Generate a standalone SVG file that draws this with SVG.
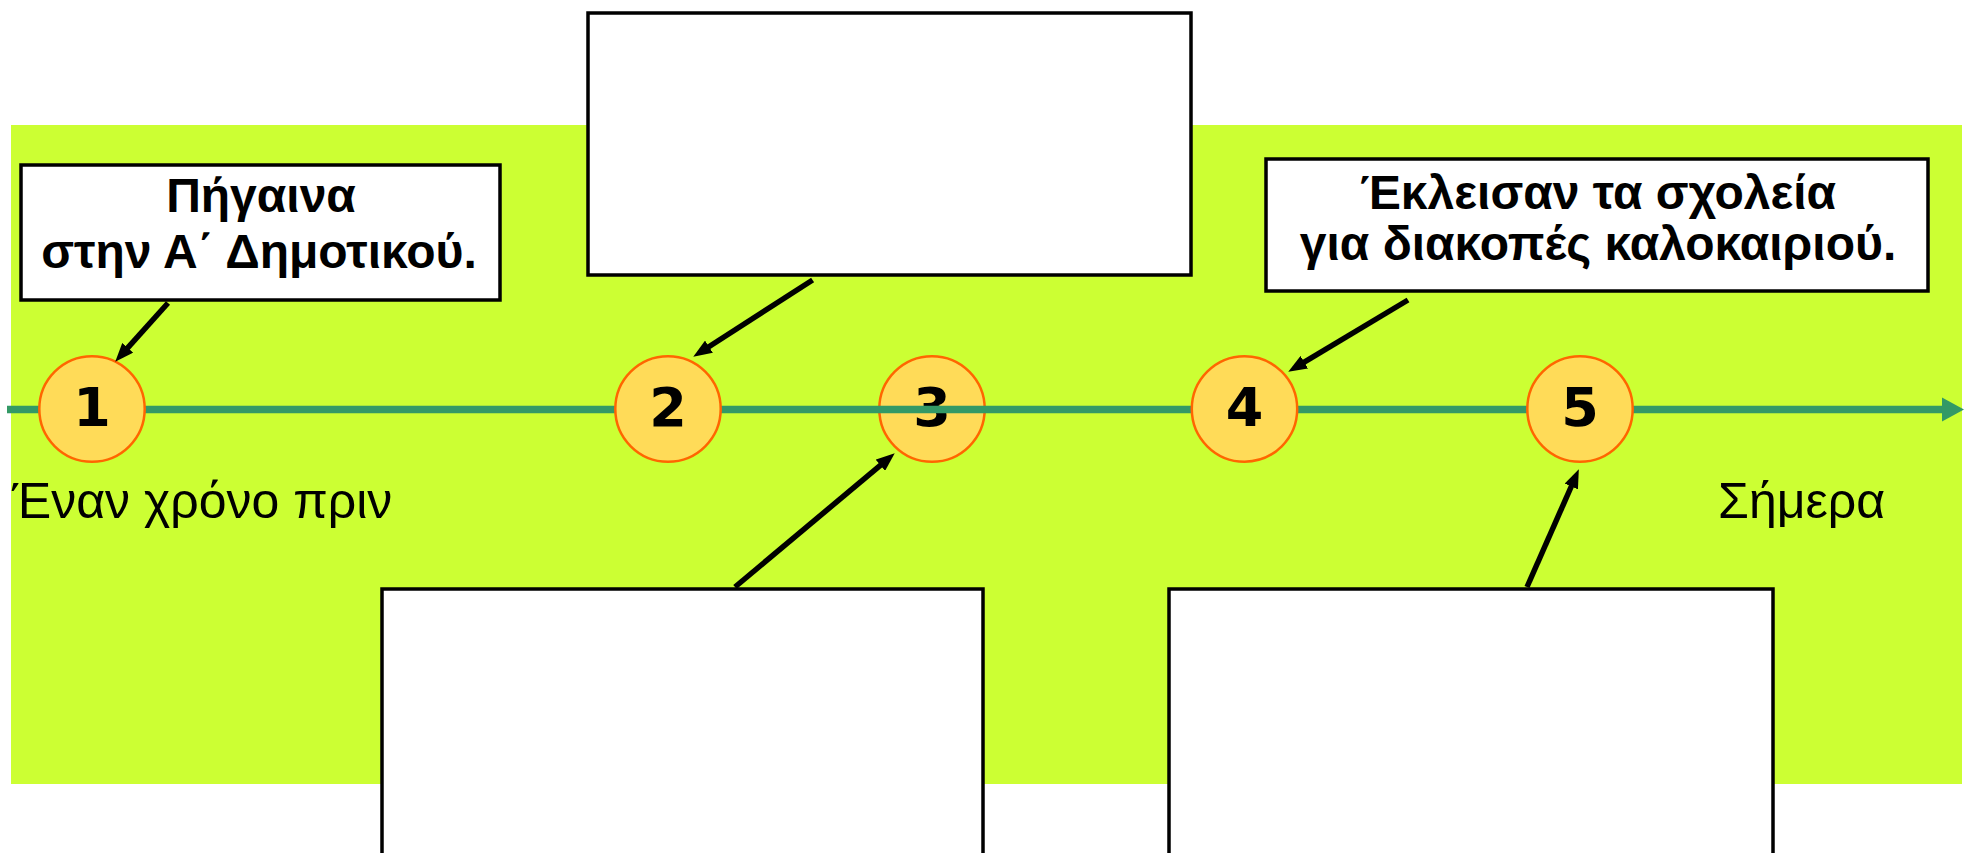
<svg xmlns="http://www.w3.org/2000/svg" width="1966" height="853" viewBox="0 0 1966 853">
  <style>
    .box { fill: #ffffff; stroke: #000000; stroke-width: 3.5; }
    .circ { fill: #FFDB58; stroke: #FF6600; stroke-width: 2.5; }
    .num { font-family: "DejaVu Sans", "Liberation Sans", sans-serif; font-weight: bold; font-size: 54px; fill: #000; text-anchor: middle; }
    .btxt { font-family: "Liberation Sans", Arial, sans-serif; font-weight: bold; font-size: 48px; fill: #000; text-anchor: middle; }
    .lbl { font-family: "Liberation Sans", Arial, sans-serif; font-size: 50px; fill: #000; }
    .conn { stroke: #000; stroke-width: 5.5; fill: none; marker-end: url(#ah); }
    .tl { stroke: #339966; stroke-width: 7.3; fill: none; }
  </style>
  <defs>
    <marker id="ah" viewBox="0 0 18 14" markerWidth="3.4" markerHeight="2.65" refX="1" refY="7" orient="auto" markerUnits="strokeWidth">
      <path d="M0,0 L18,7 L0,14 z" fill="#000"/>
    </marker>
  </defs>

  <rect id="background" x="11" y="125" width="1951" height="659" fill="#CCFF33"/>

  <g id="timeline">
    <line class="tl" x1="7" y1="409.5" x2="1944" y2="409.5"/>
    <polygon points="1942,397.5 1964,409.5 1942,421.5" fill="#339966"/>
  </g>

  <g id="node-1">
    <circle class="circ" cx="92" cy="409" r="52.7"/>
    <text class="num" x="92" y="426">1</text>
  </g>
  <g id="node-2">
    <circle class="circ" cx="668" cy="409" r="52.7"/>
    <text class="num" x="668" y="426">2</text>
  </g>
  <g id="node-4">
    <circle class="circ" cx="1244.5" cy="409" r="52.7"/>
    <text class="num" x="1244.5" y="426">4</text>
  </g>
  <g id="node-5">
    <circle class="circ" cx="1580" cy="409" r="52.7"/>
    <text class="num" x="1580" y="426">5</text>
  </g>
  <g id="node-3">
    <circle class="circ" cx="932" cy="409" r="52.7"/>
    <text class="num" x="932" y="426">3</text>
    <line class="tl" x1="878" y1="409.5" x2="986" y2="409.5"/>
  </g>

  <g id="box-1">
    <rect class="box" x="21" y="165" width="479" height="135"/>
    <text class="btxt" x="261" y="212">Πήγαινα</text>
    <text class="btxt" x="259" y="268">στην Α΄ Δημοτικού.</text>
  </g>
  <g id="box-2">
    <rect class="box" x="588" y="13" width="603" height="262"/>
  </g>
  <g id="box-4">
    <rect class="box" x="1266" y="159" width="662" height="132"/>
    <text class="btxt" x="1598" y="209">Έκλεισαν τα σχολεία</text>
    <text class="btxt" x="1598" y="260">για διακοπές καλοκαιριού.</text>
  </g>
  <g id="box-3">
    <rect class="box" x="382" y="589" width="601" height="270"/>
  </g>
  <g id="box-5">
    <rect class="box" x="1169" y="589" width="604" height="270"/>
  </g>

  <g id="labels">
    <text class="lbl" x="12" y="518">Έναν χρόνο πριν</text>
    <text class="lbl" x="1718" y="518">Σήμερα</text>
  </g>

  <g id="connectors">
    <line class="conn" x1="168" y1="303" x2="127" y2="348.6"/>
    <line class="conn" x1="812.6" y1="280" x2="708.1" y2="347.3"/>
    <line class="conn" x1="735" y1="587" x2="881.2" y2="464.6"/>
    <line class="conn" x1="1408" y1="300" x2="1303.4" y2="362.7"/>
    <line class="conn" x1="1527" y1="587" x2="1571.7" y2="485.5"/>
  </g>
</svg>
